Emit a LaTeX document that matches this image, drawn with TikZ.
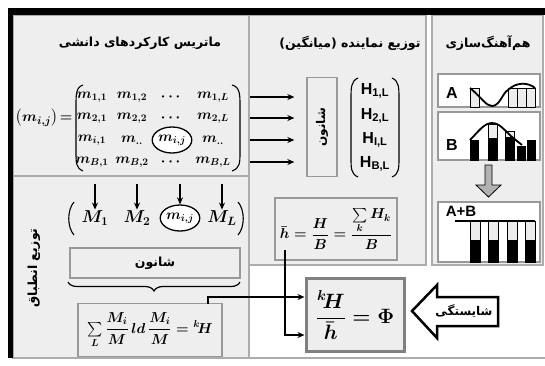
\documentclass[tikz,border=0pt]{standalone}
\usepackage{fontspec}
\usepackage{amsmath}
\setsansfont{Liberation Sans}
\newfontfamily\farsi[Script=Arabic]{DejaVu Sans}
\TeXXeTstate=1
\usetikzlibrary{arrows.meta, shapes.geometric, decorations.pathreplacing}

\newcommand{\fa}[1]{{\farsi\bfseries\beginR #1\endR}}

\begin{document}
\begin{tikzpicture}[x=1pt, y=-1pt,
    panel/.style={draw=gray!65, line width=1.3pt, fill=gray!13},
    box/.style={draw=gray!80, line width=1.3pt, fill=gray!13, inner sep=0pt},
    whitebox/.style={draw=gray!80, line width=1.3pt, fill=white},
    title/.style={font=\fontsize{12.5}{14}\selectfont},
    entry/.style={inner sep=1pt, font=\Large\boldmath},
    ring/.style={ellipse, draw, line width=1.3pt, fill=white, inner sep=0pt, minimum width=36pt, minimum height=26pt},
    paren/.style={line width=1.1pt},
    arr/.style={-{Stealth[length=7pt,width=6pt]}, line width=1.3pt},
    bar/.style={draw=black, line width=0.8pt, fill=gray!15},
    barb/.style={draw=black, line width=0.8pt, fill=black},
    letter/.style={font=\sffamily\bfseries\fontsize{16}{18}\selectfont}
]

    \useasboundingbox (0,0) rectangle (545,365);

    % Panels
    \draw[panel] (13,15) rectangle (249,176);
    \draw[panel] (13,176) rectangle (249,358);
    \draw[panel] (249,15) rectangle (426,265);
    \draw[panel] (432,15) rectangle (543,265);
    \draw[gray!65, line width=1.3pt] (249,358) -- (545,358);
    \fill[black] (8,8) rectangle (545,15);
    \fill[black] (8,8) rectangle (13,358);

    \node[title] (tmat) at (140,43) {\fa{ماتریس کارکردهای دانشی}};
    \node[title] (tmean) at (350,43) {\fa{توزیع نماینده (میانگین)}};
    \node[title] (tsync) at (488,43) {\fa{هم^^^^200cآهنگ^^^^200cسازی}};

    % Matrix
    \node[entry, inner sep=0pt, font=\fontsize{15.5}{18}\selectfont\boldmath] (mij) at (44,118) {$\left(m_{i,j}\right)\!=$};

    \foreach \r/\y in {1/97, 2/118, B/162} {
        \node[entry] (m\r-1) at (92,\y) {$m_{\r,1}$};
        \node[entry] (m\r-2) at (132,\y) {$m_{\r,2}$};
        \node[entry] (m\r-3) at (172,\y) {$\cdots$};
        \node[entry] (m\r-L) at (213,\y) {$m_{\r,L}$};
    }
    \node[entry] (mi-1) at (92,140) {$m_{i,1}$};
    \node[entry] (mi-2) at (132,140) {$m_{..}$};
    \node[entry, ring] (mi-j) at (172,140) {$m_{i,j}$};
    \node[entry] (mi-L) at (213,140) {$m_{..}$};

    \foreach \a/\b in {83/76, 232/240}
        \draw[paren] (\a,85) .. controls (\b,87) and (\b,95) .. (\b,105) -- (\b,152) .. controls (\b,163) and (\b,168) .. (\a,171);

    % Mean distribution
    \node[box, minimum width=30pt, minimum height=99pt] (shv) at (322,127) {\rotatebox{90}{\fa{\fontsize{12}{14}\selectfont شانون}}};

    \foreach \i/\y in {1/97, 2/118, 3/140, 4/162} {
        \coordinate (mr\i) at (250,\y);
        \draw[arr, shorten >=12pt] (mr\i) -- (mr\i -| shv.west);
    }

    \foreach \s/\y in {1/91, 2/116, I/140, B/164}
        \node[font=\sffamily\bfseries\fontsize{16}{18}\selectfont, inner sep=0pt] (H\s) at (375,\y) {H\textsubscript{\s,L}};

    \foreach \a/\b in {358/351, 392/399}
        \draw[paren] (\a,78) .. controls (\b,81) and (\b,88) .. (\b,98) -- (\b,158) .. controls (\b,168) and (\b,174) .. (\a,177);

    \node[box, minimum width=122pt, minimum height=62pt, font=\Large\boldmath] (hbar) at (336,229)
        {$\bar h=\dfrac{H}{B}=\dfrac{\sum\limits_k H_k}{B}$};
    \coordinate (hb) at (285,250);

    % Harmonisation
    \draw[whitebox] (438,74) rectangle (540,107);
    \node[letter] (lA) at (452,93) {A};
    \draw[bar] (470,88) rectangle (479,107);
    \foreach \x in {508, 517, 526}
        \draw[bar] (\x,88) rectangle ++(9,19);
    \draw[line width=1.8pt] (470,88) .. controls (482,98) and (486,106) .. (492,106)
        .. controls (500,106) and (503,92) .. (508,90) .. controls (516,82) and (528,82) .. (535,88);

    \draw[whitebox] (438,112) rectangle (540,160);
    \node[letter] (lB) at (452,145) {B};
    \draw[barb] (470,140) rectangle (478,160);
    \draw[bar] (488,124) rectangle (497,138);
    \draw[barb] (488,138) rectangle (497,160);
    \draw[bar] (505,131) rectangle (514,137);
    \draw[barb] (505,137) rectangle (514,160);
    \draw[barb] (517,146) rectangle (525,160);
    \draw[barb] (527,140) rectangle (535,160);
    \draw[line width=1.8pt] (470,140) .. controls (478,132) and (484,123) .. (492,123)
        .. controls (500,123) and (505,131) .. (512,137) -- (522,145);

    \draw[fill=gray!60, line width=0.8pt] (485,165) -- (492,165) -- (492,185) -- (501,185)
        -- (488.5,197) -- (476,185) -- (485,185) -- cycle;

    \draw[whitebox] (438,202) rectangle (540,262);
    \node[letter, font=\sffamily\bfseries\fontsize{15}{17}\selectfont] (lAB) at (461,211) {A+B};
    \draw[line width=1.8pt] (455,221) -- (535,221);
    \foreach \x in {470, 488, 507, 525} {
        \draw[bar] (\x,221) rectangle ++(10,19);
        \draw[barb] (\x,240) rectangle ++(10,22);
    }

    % Fitting distribution
    \node[title, rotate=90] (tfit) at (34,268) {\fa{توزیع انطباق}};

    \foreach \i/\x/\t in {1/95/M_1, 2/137/M_2, 4/222/M_L}
        \node[entry, font=\LARGE\boldmath] (v\i) at (\x,218) {$\t$};
    \node[entry, ring] (v3) at (180,218) {$m_{i,j}$};

    \foreach \i/\x in {1/95, 2/137, 3/180, 4/222} {
        \coordinate (d\i) at (\x,184);
        \draw[arr] (d\i) -- (v\i);
    }

    \foreach \a/\b in {74/67, 238/245}
        \draw[paren] (\a,202) .. controls (\b,210) and (\b,227) .. (\a,235);

    \node[box, minimum width=170pt, minimum height=30pt, title] (shh) at (155,263) {\fa{شانون}};
    \draw[decorate, decoration={brace, amplitude=9pt}, line width=1.2pt] (240,282) -- (68,282);

    \node[box, minimum width=144pt, minimum height=53pt, font=\Large\boldmath] (ent) at (150,330)
        {$\sum\limits_L \dfrac{M_i}{M}\, ld\, \dfrac{M_i}{M}={}^k\!H$};
    \coordinate (kh) at (208,304);

    % Fitness
    \node[draw=gray, line width=3pt, fill=gray!13, minimum width=98pt, minimum height=73pt, font=\huge\boldmath] (phi) at (355,315)
        {$\dfrac{{}^k\!H}{\bar h}=\Phi$};

    \draw[arr, line width=1.6pt] (kh) |- ([yshift=18pt]phi.west);
    \draw[arr, line width=1.6pt] (hb) |- ([yshift=-20pt]phi.west);

    \draw[line width=2.5pt, fill=white, line join=miter] (412,311) -- (437,285) -- (437,297) -- (498,297)
        -- (498,326) -- (437,326) -- (437,338) -- cycle;
    \node[font=\fontsize{12}{14}\selectfont] (fit) at (464,311) {\fa{شایستگی}};

\end{tikzpicture}
\end{document}
